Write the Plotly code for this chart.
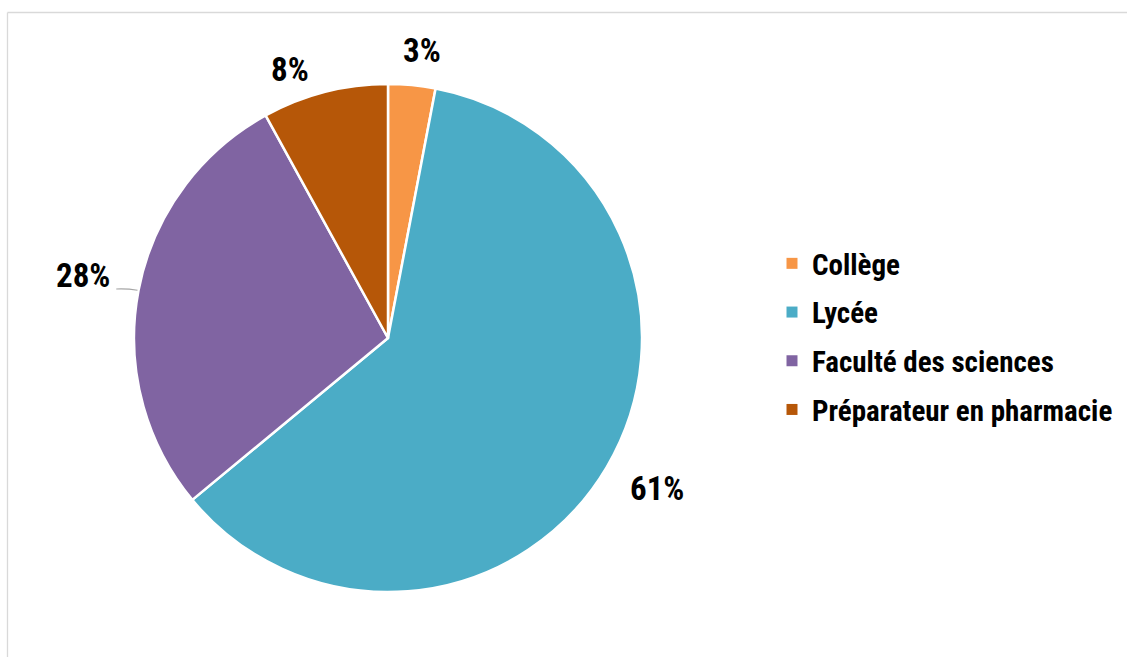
import math
import plotly.graph_objects as go

# Répartition par niveau d'études
categories = ["Collège", "Lycée", "Faculté des sciences", "Préparateur en pharmacie"]
values = [3, 61, 28, 8]
colors = ["#F79646", "#4BACC6", "#8064A2", "#B65708"]

W, H = 1127, 657
FONT = "Liberation Sans Narrow, Arial Narrow, Roboto Condensed, Liberation Sans, sans-serif"

# Pie geometry in pixels (margins are zero, so paper = pixel / size)
cx, cy, r = 388, 338, 254

# Placement of the percentage labels around the pie
label_radius = [290, 308, 311, 286]
label_nudge_deg = [1.4, -1.3, 0.7, -5.7]
leader_line = [False, False, True, False]

fig = go.Figure()

fig.add_trace(go.Pie(
    labels=categories,
    values=values,
    marker=dict(colors=colors, line=dict(color="white", width=2.5)),
    sort=False,
    direction="clockwise",
    rotation=0,
    textinfo="none",
    showlegend=False,
    hoverinfo="label+percent",
    domain=dict(x=[(cx - r) / W, (cx + r) / W], y=[1 - (cy + r) / H, 1 - (cy - r) / H]),
))

total = sum(values)
annotations = []
shapes = [
    dict(type="line", xref="paper", yref="paper",
         x0=7.5 / W, x1=1, y0=1 - 12.5 / H, y1=1 - 12.5 / H,
         line=dict(color="#D9D9D9", width=1.3)),
    dict(type="line", xref="paper", yref="paper",
         x0=7.5 / W, x1=7.5 / W, y0=0, y1=1 - 12.5 / H,
         line=dict(color="#D9D9D9", width=1.3)),
]

cum = 0.0
for v, rad, nudge, lead in zip(values, label_radius, label_nudge_deg, leader_line):
    mid = (cum + v / 2) / total * 360.0
    cum += v
    a = math.radians(mid + nudge)
    lx = cx + rad * math.sin(a)
    ly = cy - rad * math.cos(a)
    annotations.append(dict(
        x=lx / W, y=1 - ly / H, xref="paper", yref="paper",
        text=f"{v}%", showarrow=False, xanchor="center", yanchor="middle",
        font=dict(family=FONT, size=33, color="black", weight="bold"),
    ))
    if lead:
        am = math.radians(mid)
        ex = cx + (r + 1) * math.sin(am)
        ey = cy - (r + 1) * math.cos(am)
        sx, sy = lx + 33, ly + 13
        shapes.append(dict(
            type="path", xref="paper", yref="paper",
            path=(f"M{sx / W},{1 - sy / H} Q{(sx + ex) / 2 / W},{1 - (sy - 0.5) / H} "
                  f"{ex / W},{1 - ey / H}"),
            line=dict(color="#A6A6A6", width=1.2),
        ))

# Legend entries, one group each for spacing
for i, (name, col) in enumerate(zip(categories, colors)):
    fig.add_trace(go.Scatter(
        x=[None], y=[None], mode="markers", name=name,
        marker=dict(symbol="square", size=11, color=col),
        legendgroup=f"g{i}", showlegend=True,
    ))

fig.update_layout(
    width=W, height=H,
    margin=dict(l=0, r=0, t=0, b=0),
    paper_bgcolor="white",
    plot_bgcolor="white",
    xaxis=dict(visible=False),
    yaxis=dict(visible=False),
    legend=dict(
        x=772 / W, y=1 - 238 / H, xanchor="left", yanchor="top",
        font=dict(family=FONT, size=29, color="black", weight="bold"),
        tracegroupgap=8,
        itemwidth=30,
        bgcolor="rgba(0,0,0,0)",
    ),
    annotations=annotations,
    shapes=shapes,
)

fig.write_html("out.html")
